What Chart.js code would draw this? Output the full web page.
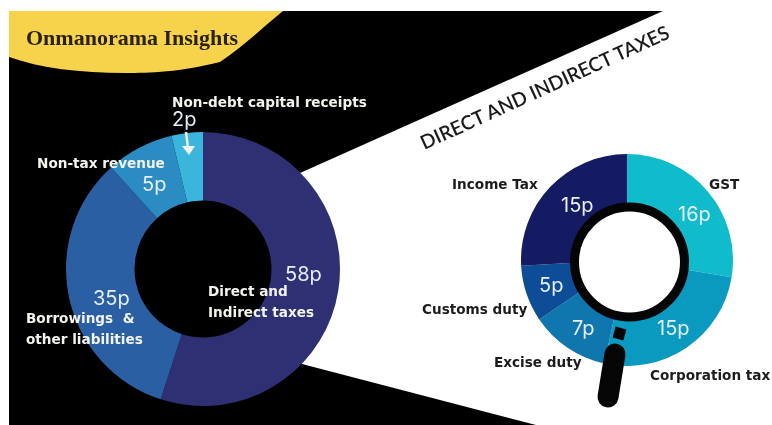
<!DOCTYPE html>
<html>
<head>
<meta charset="utf-8">
<title>Onmanorama Insights</title>
<script src="https://cdn.jsdelivr.net/npm/chart.js@4"></script>
<style>
html, body { margin: 0; padding: 0; background: #fff; }
#page { position: relative; width: 772px; height: 425px; overflow: hidden; filter: blur(0.5px); }
#page svg, #page canvas { position: absolute; }
.txt { position: absolute; white-space: pre; line-height: 1; transform: translateY(-50%); }
.head { font: 700 13.6px "DejaVu Sans", sans-serif; color: #f4f4ee; }
.dark { color: #1c1c1c; }
.val { font: 400 20px Inter, sans-serif; color: #e6eefa; }
.brand { font: 700 22px "Liberation Serif", serif; color: #2a2208; }
.title { font: 600 19.5px Lato, sans-serif; color: #1a1a1a; transform-origin: center; }
</style>
</head>
<body>
<div id="page">
  <svg width="772" height="425">
    <polygon points="9,11 663,11 300,173 302,364 536,425 9,425" fill="#000"/>
    <path d="M9 11 L283 11 C262 28 245 45 220 62 C180 72 150 73 125 73 C80 73 40 68 9 57 Z" fill="#f7d34c"/>
  </svg>
  <canvas id="revenueChart" width="274" height="274" style="left:66px;top:132px"></canvas>
  <canvas id="taxChart" width="212" height="212" style="left:521px;top:154px"></canvas>
  <svg width="772" height="425">
    <!-- arrow under the 2p label -->
    <line x1="186" y1="132" x2="188" y2="148" stroke="#f4f4ee" stroke-width="2.5"/>
    <polygon points="182,146 195,146 189,155" fill="#f4f4ee"/>
    <!-- magnifying glass on the tax ring -->
    <circle cx="629.5" cy="262" r="55" fill="#fff" stroke="#050505" stroke-width="9"/>
    <line x1="621" y1="328" x2="618" y2="339" stroke="#050505" stroke-width="11"/>
    <line x1="615" y1="354" x2="608" y2="397" stroke="#050505" stroke-width="21" stroke-linecap="round"/>
  </svg>
</div>
<script>
// where the money comes from
const revenueLabels = ['Direct and\nIndirect taxes', 'Borrowings  &\nother liabilities', 'Non-tax revenue', 'Non-debt capital receipts'];
const revenuePaise = ['58p', '35p', '5p', '2p'];
// slice sizes as drawn in the picture, they are not quite the printed paise
const revenueSlices = [55, 33.3, 8, 3.7];
const revenueColors = ['#2f3074', '#2b5fa4', '#2a8cc2', '#3ab6dd'];

// split of the direct and indirect taxes
const taxLabels = ['GST', 'Corporation tax', 'Excise duty', 'Customs duty', 'Income Tax'];
const taxValues = [16, 15, 7, 5, 15];
const taxColors = ['#10bccb', '#0a9abf', '#0f76ae', '#0d4c97', '#141b62'];

function donut(id, values, colors, cutout) {
    return new Chart(document.getElementById(id), {
        type: 'doughnut',
        data: {
            labels: id === 'taxChart' ? taxLabels : revenueLabels,
            datasets: [{
                data: values,
                backgroundColor: colors,
                borderWidth: 0
            }]
        },
        options: {
            responsive: false,
            animation: false,
            cutout: cutout,
            plugins: {
                legend: { display: false },
                tooltip: { enabled: false }
            }
        }
    });
}

donut('revenueChart', revenueSlices, revenueColors, '50%');
donut('taxChart', taxValues, taxColors, '50%');

// text goes on top as normal page text
function put(text, x, y, cls) {
    const d = document.createElement('div');
    d.className = 'txt ' + cls;
    d.textContent = text;
    d.style.left = x + 'px';
    d.style.top = y + 'px';
    document.getElementById('page').appendChild(d);
    return d;
}

put('Onmanorama Insights', 26, 38, 'brand');
put(revenueLabels[3], 172, 102, 'head');
put(revenuePaise[3], 172, 119, 'val');
put(revenueLabels[2], 37, 163, 'head');
put(revenuePaise[2], 142, 184, 'val');
put(revenuePaise[1], 93, 298, 'val');
put(revenueLabels[1].split('\n')[0], 26, 318, 'head');
put(revenueLabels[1].split('\n')[1], 26, 339, 'head');
put(revenuePaise[0], 285, 274, 'val');
put(revenueLabels[0].split('\n')[0], 208, 291, 'head');
put(revenueLabels[0].split('\n')[1], 208, 312, 'head');

put(taxLabels[4], 452, 184, 'head dark');
put(taxLabels[0], 709, 184, 'head dark');
put(taxLabels[3], 422, 309, 'head dark');
put(taxLabels[2], 494, 362, 'head dark');
put(taxLabels[1], 650, 375, 'head dark');
put(taxValues[4] + 'p', 561, 205, 'val');
put(taxValues[0] + 'p', 678, 214, 'val');
put(taxValues[3] + 'p', 539, 285, 'val');
put(taxValues[2] + 'p', 572, 328, 'val');
put(taxValues[1] + 'p', 657, 328, 'val');

const t = put('DIRECT AND INDIRECT TAXES', 409, 87, 'title');
t.style.transform = 'translateY(-50%) rotate(-24.5deg)';
</script>
</body>
</html>
